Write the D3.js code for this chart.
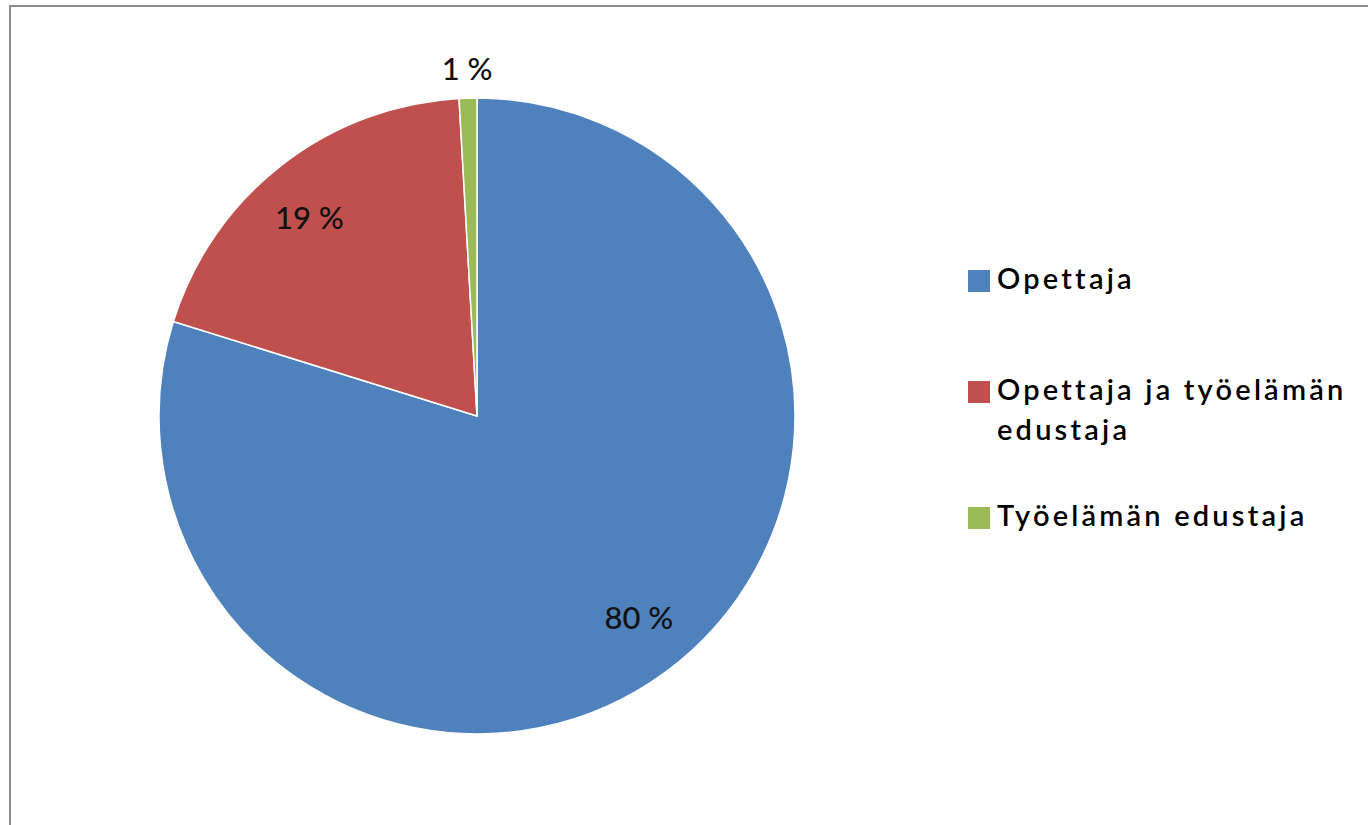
<!DOCTYPE html>
<html><head><meta charset="utf-8">
<script src="https://cdn.jsdelivr.net/npm/d3@7"></script>
<style>html,body{margin:0;padding:0;background:#fff;}svg{display:block;}</style>
</head><body>
<svg id="chart" width="1368" height="825"></svg>
<script>
const categories = ["Opettaja", "Opettaja ja työelämän edustaja", "Työelämän edustaja"];
const values = [79.8, 19.3, 0.9];
const valueLabels = ["80 %", "19 %", "1 %"];
const legendLines = [["Opettaja"], ["Opettaja ja työelämän", "edustaja"], ["Työelämän edustaja"]];
const colors = ["#4F81BD", "#C0504D", "#9BBB59"];

const svg = d3.select("#chart");
// frame
svg.append("rect").attr("x", 10).attr("y", 6).attr("width", 1400).attr("height", 900)
  .attr("fill", "#fff").attr("stroke", "#8c8c8c").attr("stroke-width", 2);

const cx = 477, cy = 416, R = 318;
const color = d3.scaleOrdinal().domain(categories).range(colors);
const pie = d3.pie().sort(null).value(d => d.v);
const data = pie(categories.map((c, i) => ({c, v: values[i], label: valueLabels[i]})));
const arc = d3.arc().innerRadius(0).outerRadius(R);
const g = svg.append("g").attr("transform", `translate(${cx},${cy})`);
g.selectAll("path").data(data).join("path")
  .attr("d", arc).attr("fill", d => color(d.data.c))
  .attr("stroke", "#fff").attr("stroke-width", 1.5).attr("stroke-linejoin", "round");

function labelPos(d) {
  const outside = d.data.v < 5;
  const r = outside ? R * 1.09 : R * 0.815;
  const a = (d.startAngle + d.endAngle) / 2 - (outside ? 0 : 0.04);
  return [Math.sin(a) * r, -Math.cos(a) * r];
}
g.selectAll("text.lbl").data(data).join("text").attr("class", "lbl")
  .attr("transform", d => { const p = labelPos(d); return `translate(${p[0]},${p[1]})`; })
  .attr("text-anchor", "middle").attr("dy", "0.35em")
  .attr("font-family", "Lato, 'Open Sans', sans-serif").attr("font-size", 31).attr("font-weight", 500)
  .attr("fill", "#111")
  .text(d => d.data.label);

// legend
const legendY = [270, 381, 507];
const lg = svg.append("g");
categories.forEach((c, i) => {
  lg.append("rect").attr("x", 968).attr("y", legendY[i]).attr("width", 22).attr("height", 22)
    .attr("fill", color(c));
  const t = lg.append("text").attr("x", 997).attr("y", legendY[i] + 19)
    .attr("font-family", "Lato, 'Open Sans', sans-serif").attr("font-size", 29).attr("font-weight", 600)
    .attr("letter-spacing", 3.2)
    .attr("fill", "#000");
  legendLines[i].forEach((ln, j) => {
    t.append("tspan").attr("x", 997).attr("dy", j === 0 ? 0 : 40).text(ln);
  });
});
</script>
</body></html>
